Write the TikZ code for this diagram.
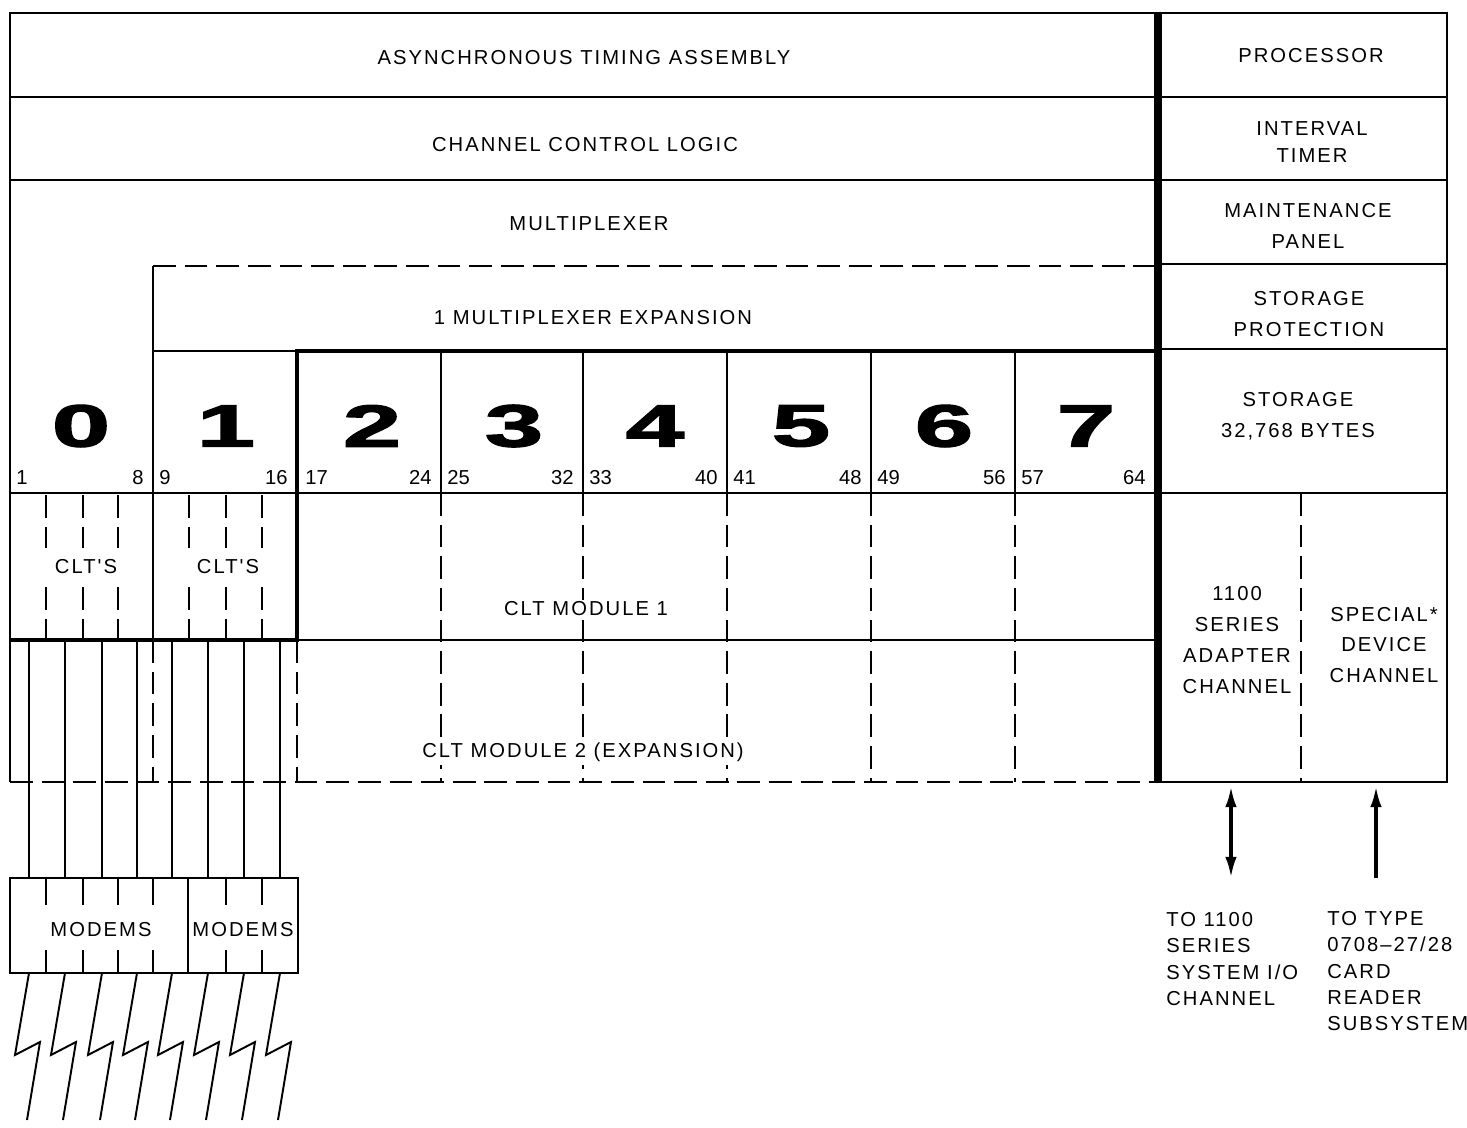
\documentclass[tikz,border=0pt]{standalone}
\usepackage{fontspec}
\setmainfont{Liberation Sans}
\newfontfamily\lblfont[LetterSpace=10]{Liberation Sans}
\newfontfamily\digfont[BoldFeatures={FakeBold=2}]{Liberation Sans}
\usetikzlibrary{arrows.meta}
\begin{document}
\begin{tikzpicture}[x=0.02cm,y=-0.02cm,
  thinln/.style={line width=1.1pt},
  thickln/.style={line width=2.8pt,line join=miter},
  heavyln/.style={line width=4.5pt},
  dashln/.style={line width=1.1pt,dash pattern=on 13pt off 5pt},
  lbl/.style={font=\fontsize{11.5}{17.5}\lblfont,align=center,inner sep=1pt},
  lbls/.style={font=\fontsize{11.5}{15}\lblfont,align=left,inner sep=0pt,anchor=north west},
  num/.style={font=\fontsize{11.5}{14}\selectfont,inner sep=0pt},
  big/.style={font=\fontsize{34}{34}\digfont\bfseries,inner sep=0pt},
  arr/.style={line width=2pt,-{Latex[length=12pt,width=6.5pt]}},
  darr/.style={line width=2pt,{Latex[length=12pt,width=6.5pt]}-{Latex[length=12pt,width=6.5pt]}}
]
\useasboundingbox (0,0) rectangle (1467,1128);

% ---------- frame ----------
\draw[thinln] (1158,782) -- (1447,782) -- (1447,13) -- (10,13) -- (10,782);
\draw[dashln] (10,782) -- (1158,782);
\draw[thinln] (10,97) -- (1447,97);
\draw[thinln] (10,180) -- (1447,180);
\draw[thinln] (1158,264) -- (1447,264);
\draw[thinln] (1158,349) -- (1447,349);
\draw[thinln] (10,493) -- (1447,493);
\draw[dashln] (153,266) -- (1158,266);
\draw[thinln] (153,266) -- (153,640);
\draw[thinln] (153,351) -- (297,351);
\draw[thinln] (297,640) -- (1158,640);
\foreach \x in {441,583,727,871,1015}{
  \draw[thinln] (\x,351) -- (\x,493);
  \draw[dashln] (\x,493) -- (\x,782);
}
\draw[dashln] (153,640) -- (153,782);
\draw[dashln] (297,640) -- (297,782);
\draw[thickln] (1158,351) -- (297,351) -- (297,640) -- (10,640);
\draw[heavyln] (1158,13) -- (1158,782);
\draw[dashln] (1301,493) -- (1301,782);

% CLT sub-lines
\foreach \x in {46,83,118,189,226,262}{
  \draw[dashln] (\x,495) -- (\x,548);
  \draw[dashln] (\x,587) -- (\x,640);
}

% ---------- labels ----------
\node[lbl] (ata) at (584,58) {ASYNCHRONOUS TIMING ASSEMBLY};
\node[lbl] (ccl) at (585,145) {CHANNEL CONTROL LOGIC};
\node[lbl] (mux) at (589,224) {MULTIPLEXER};
\node[lbl] (mxe) at (593,318) {1 MULTIPLEXER EXPANSION};
\node[lbl] (proc) at (1311,56) {PROCESSOR};
\node[lbl,font=\fontsize{11.5}{15}\lblfont] (itim) at (1312,142) {INTERVAL\\TIMER};
\node[lbl] (mpan) at (1308,226) {MAINTENANCE\\PANEL};
\node[lbl] (sprot) at (1309,314) {STORAGE\\PROTECTION};
\node[lbl] (stor) at (1298,416) {STORAGE\\32,768 BYTES};
\node[lbl] (adch) at (1237,640) {1100\\SERIES\\ADAPTER\\CHANNEL};
\node[lbl] (spch) at (1384,645) {SPECIAL*\\DEVICE\\CHANNEL};
\node[lbl] (clta) at (86,567) {CLT'S};
\node[lbl] (cltb) at (228,567) {CLT'S};
\node[lbl,fill=white] (mod1) at (586,609) {CLT MODULE 1};
\node[lbl,fill=white,inner sep=2pt] (mod2) at (583,752) {CLT MODULE 2 (EXPANSION)};

% big digits and numbers
\foreach \c/\d [count=\i from 0] in {81/0,226/1,372/2,514/3,655/4,801/5,944/6,1086/7}{
  \node[big] (dig\i) at (\c,426) {\scalebox{1.75}[1]{\d}};
}
\foreach \xl/\xr/\a/\b [count=\i from 0] in {16/144/1/8,159/288/9/16,305/432/17/24,447/574/25/32,589/718/33/40,733/862/41/48,877/1006/49/56,1021/1146/57/64}{
  \node[num,anchor=base west] (nl\i) at (\xl,484) {\a};
  \node[num,anchor=base east] (nr\i) at (\xr,484) {\b};
}

% ---------- modems ----------
\draw[thinln] (10,878) rectangle (298,973);
\draw[thinln] (188,878) -- (188,973);
\foreach \x in {46,83,118,153,226,262}{
  \draw[thinln] (\x,878) -- (\x,905);
  \draw[thinln] (\x,950) -- (\x,973);
}
\node[lbl] (mdm1) at (101,930) {MODEMS};
\node[lbl] (mdm2) at (243,930) {MODEMS};
\foreach \x in {29,65,102,137,172,208,244,280}{
  \draw[thinln] (\x,640) -- (\x,878);
  \draw[thinln,line join=miter] (\x,973) -- ++(-14,82) -- ++(25,-13) -- ++(-13,78);
}

% ---------- arrows ----------
\coordinate (a1t) at (1231,786);
\coordinate (a1b) at (1231,878);
\coordinate (a2t) at (1376,786);
\coordinate (a2b) at (1376,878);
\draw[darr] (a1b) -- (a1t);
\draw[arr] (a2b) -- (a2t);

\node[lbls] (to1100) at (1166,912) {TO 1100\\SERIES\\SYSTEM I/O\\CHANNEL};
\node[lbls] (totype) at (1327,911) {TO TYPE\\0708–27/28\\CARD\\READER\\SUBSYSTEM};
\end{tikzpicture}
\end{document}
